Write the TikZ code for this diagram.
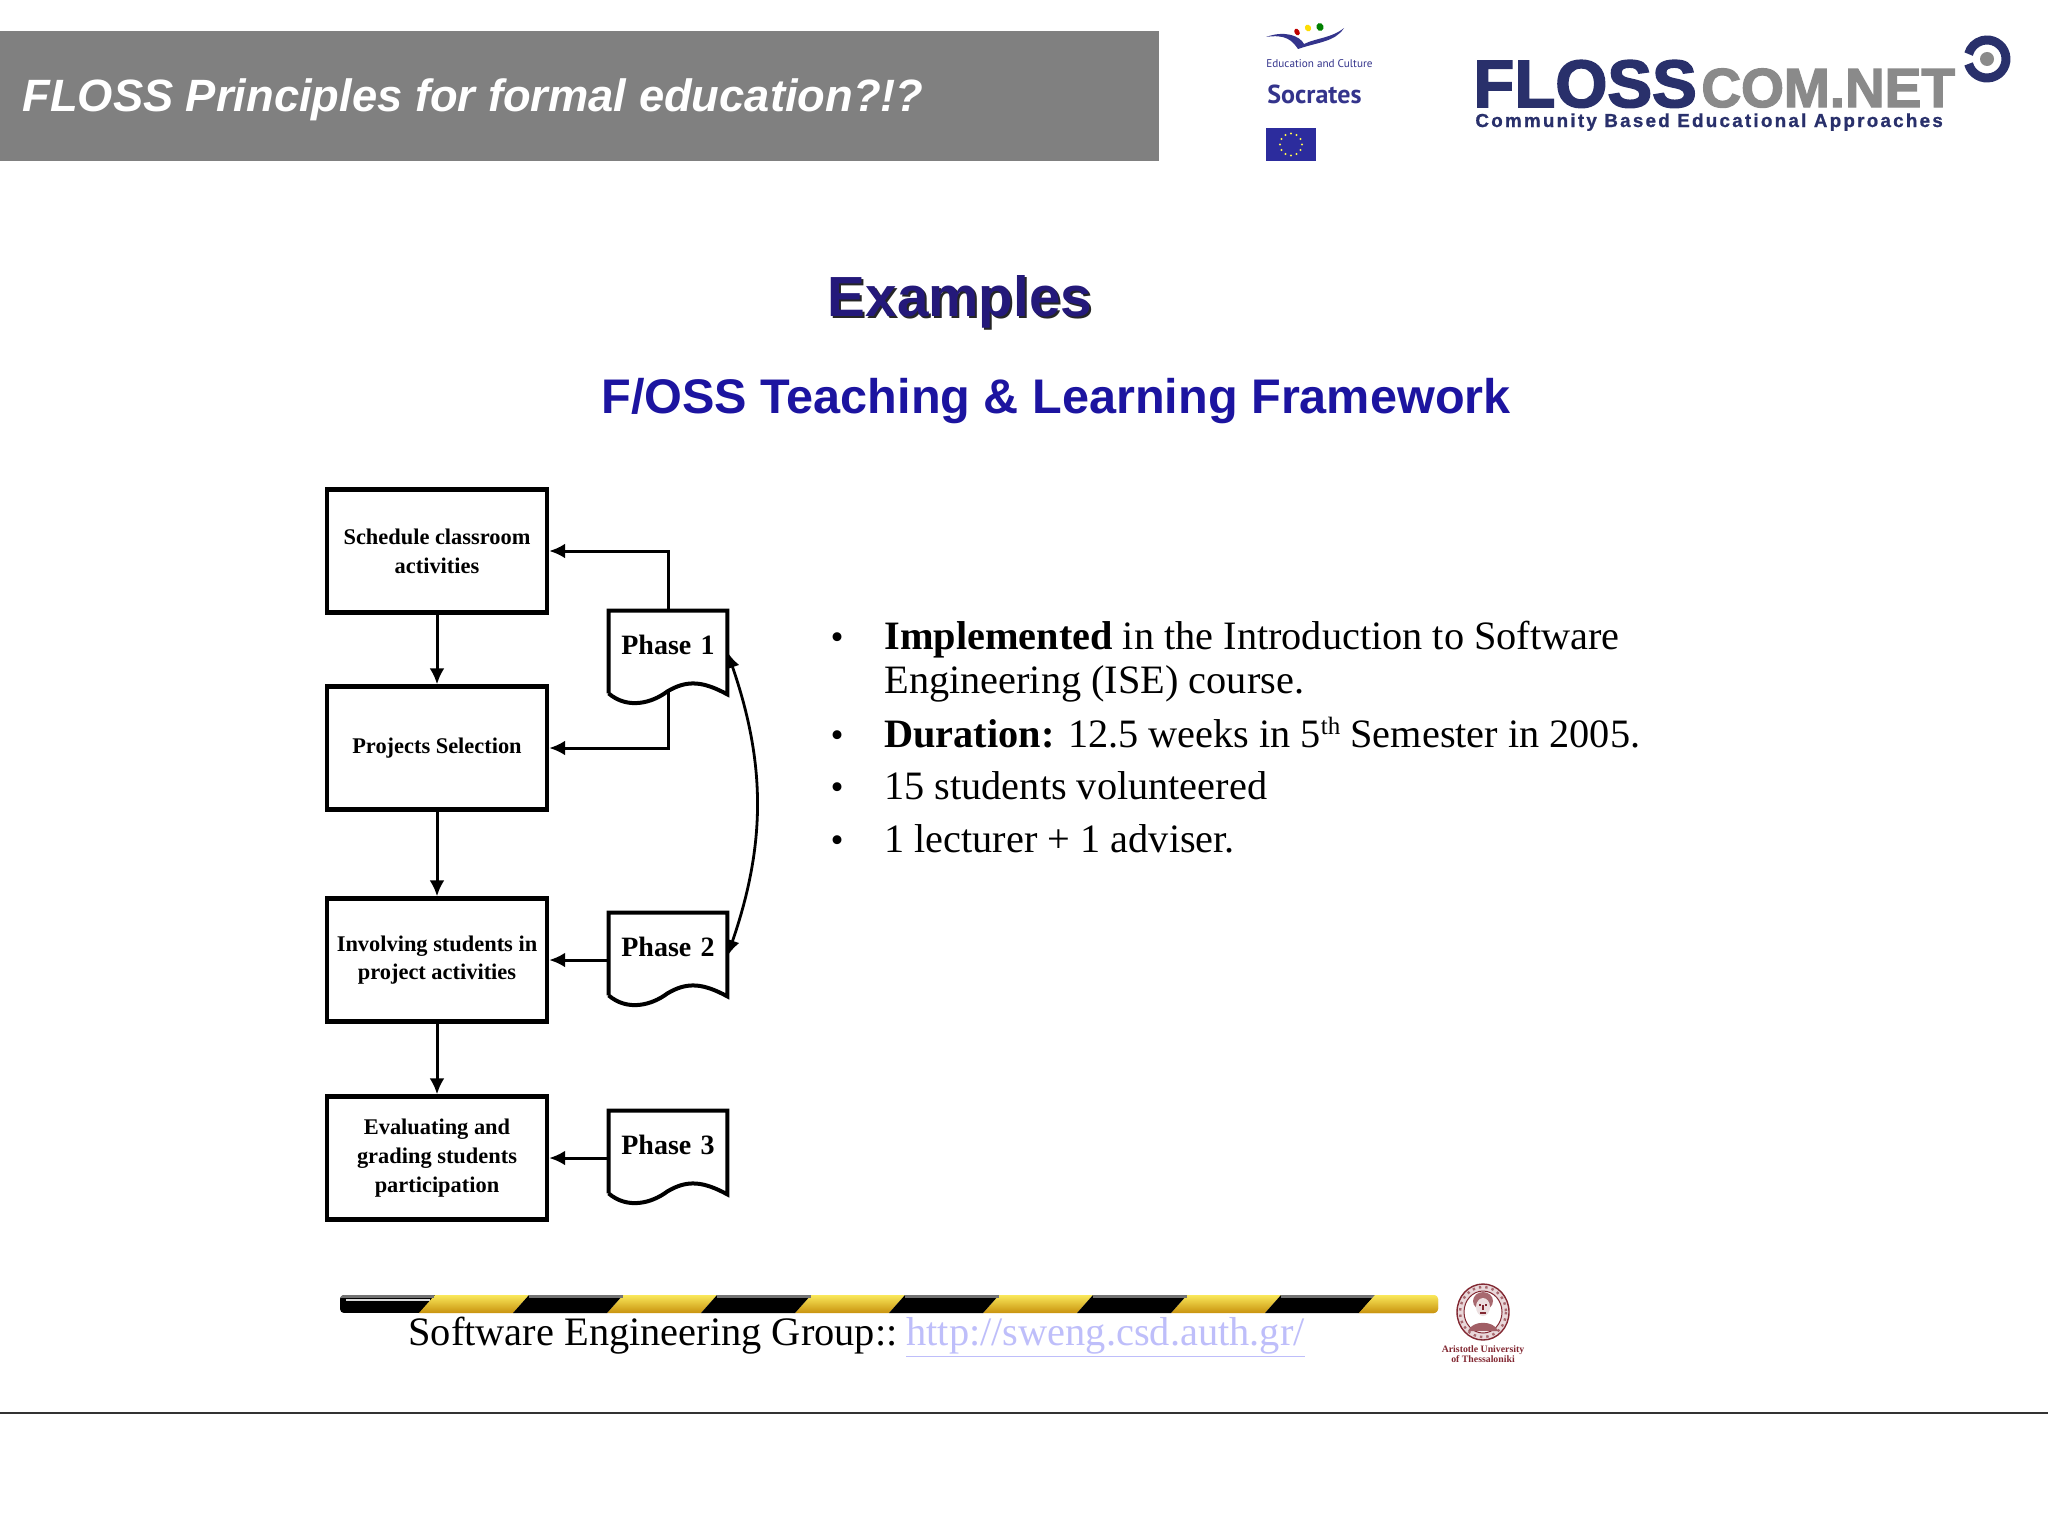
\documentclass[tikz,border=0pt]{standalone}
\usepackage{fontspec}
\setmainfont{Liberation Serif}
\setsansfont{Liberation Sans}
\newfontfamily\logofont{PT Sans}
\newfontfamily\heavyfont[UprightFont={* Bold}, FakeBold=2.5]{Liberation Sans}
\newfontfamily\spacedfont[UprightFont={* Bold}, FakeBold=1, LetterSpace=12]{Liberation Sans}
\usetikzlibrary{arrows.meta}
\definecolor{barcol}{RGB}{128,128,128}
\definecolor{navycol}{RGB}{41,48,107}
\definecolor{examplecol}{RGB}{36,25,122}
\definecolor{framecol}{RGB}{28,20,160}
\definecolor{socratescol}{RGB}{52,52,140}
\definecolor{graylogo}{RGB}{138,138,138}
\definecolor{linkcol}{RGB}{190,190,250}
\definecolor{authcol}{RGB}{130,40,50}
\definecolor{stripetop}{RGB}{250,232,90}
\definecolor{stripemid}{RGB}{244,200,16}
\definecolor{stripelow}{RGB}{200,146,14}
\tikzset{
  stepbox/.style={draw, line width=2.2pt, minimum width=110pt, minimum height=61.5pt,
    inner sep=0pt, align=center, font=\fontsize{11.2}{14.4}\selectfont\bfseries},
  phasedoc/.style={inner sep=0pt, text width=59pt, align=center,
    text height=21.5pt, text depth=25.5pt, font=\fontsize{14}{16}\selectfont\bfseries,
    append after command={
      \pgfextra{\draw[line width=2pt, line join=miter]
        ([yshift=6pt]\tikzlastnode.south west) -- (\tikzlastnode.north west) --
        (\tikzlastnode.north east) -- ([yshift=5.5pt]\tikzlastnode.south east)
        .. controls ([xshift=-12pt,yshift=12pt]\tikzlastnode.south east) and
        ([xshift=-20pt,yshift=13pt]\tikzlastnode.south east) ..
        ([xshift=-30pt,yshift=7pt]\tikzlastnode.south east)
        .. controls ([xshift=-38pt,yshift=1pt]\tikzlastnode.south east) and
        ([xshift=-50pt,yshift=-2pt]\tikzlastnode.south east) ..
        ([yshift=6pt]\tikzlastnode.south west);}}},
  arrowline/.style={line width=1.5pt, -{Latex[length=8pt,width=7.5pt]}},
  itemtext/.style={anchor=base west, inner sep=0pt, font=\fontsize{20.15}{24}\selectfont},
  dotitem/.style={anchor=base, inner sep=0pt, font=\fontsize{18.6}{22}\selectfont},
}

\begin{document}
\begin{tikzpicture}[x=0.5pt, y=-0.5pt]
  \useasboundingbox (0,0) rectangle (2048,1536);
  \fill[white] (0,0) rectangle (2048,1536);

  % header
  \fill[barcol] (0,31) rectangle (1159,161);
  \node[anchor=base west, inner sep=0pt, text=white,
    font=\fontsize{22.65}{28}\selectfont\sffamily\bfseries\itshape] (header) at (22,112)
    {FLOSS Principles for formal education?!?};

  % socrates logo
  \fill[socratescol] (1266,37) .. controls (1285,30) and (1300,36) .. (1304,44)
    .. controls (1316,38) and (1332,38) .. (1344,28)
    .. controls (1335,42) and (1318,42) .. (1298,49)
    .. controls (1292,40) and (1285,34) .. (1266,37) -- cycle;
  \fill[red!75!black, rotate around={30:(1297,32)}] (1297,32) ellipse (2.5 and 3.5);
  \fill[yellow!80!orange, rotate around={30:(1308,28)}] (1308,28) ellipse (3 and 3.5);
  \fill[green!50!black, rotate around={20:(1320,27)}] (1320,27) ellipse (3.5 and 4);
  \node[anchor=base west, inner sep=0pt, text=socratescol,
    font=\fontsize{5.6}{7}\selectfont\logofont] (culture) at (1266,68) {Education and Culture};
  \node[anchor=base west, inner sep=0pt, text=socratescol,
    font=\fontsize{13}{16}\selectfont\logofont\bfseries] (socrates) at (1267,104) {Socrates};
  \fill[socratescol!85!blue] (1266,128) rectangle (1316,161);
  \foreach \a in {0,30,...,330}
    \fill[yellow!70!white] ({1291+11*cos(\a)},{144.5+11*sin(\a)}) circle (1.2);

  % flosscom logo
  \node[anchor=base west, inner sep=0pt, text=navycol,
    font=\fontsize{33.5}{36}\selectfont\heavyfont] (floss) at (1473,107) {FLOSS};
  \node[anchor=base west, inner sep=0pt, text=graylogo,
    font=\fontsize{27.5}{30}\selectfont\heavyfont] (comnet) at (1701,107) {COM.NET};
  \node[anchor=base west, inner sep=0pt, text=navycol,
    font=\fontsize{9.4}{11}\selectfont\spacedfont] (community) at (1475,127)
    {Community Based Educational Approaches};
  \draw[navycol, line width=4.5pt] (1968.6,63.9) arc[start angle=165, end angle=-165, radius=19];
  \fill[graylogo] (1987,59) circle (7);

  % titles
  \node[inner sep=0pt, text=black!85, font=\fontsize{28.3}{32}\selectfont\sffamily\bfseries]
    (shadow) at (962,304) {Examples};
  \node[inner sep=0pt, text=examplecol, font=\fontsize{28.3}{32}\selectfont\sffamily\bfseries]
    (examples) at (960,302) {Examples};
  \node[anchor=base, inner sep=0pt, text=framecol,
    font=\fontsize{24.3}{28}\selectfont\sffamily\bfseries] (framework) at (1056,413)
    {F/OSS Teaching \& Learning Framework};

  % flow chart
  \node[stepbox] (schedule) at (437,551) {Schedule classroom\\activities};
  \node[stepbox] (selection) at (437,748) {Projects Selection};
  \node[stepbox] (involving) at (437,960) {Involving students in\\project activities};
  \node[stepbox] (evaluating) at (437,1158) {Evaluating and\\grading students\\participation};
  \node[phasedoc] (phaseone) at (668,658) {Phase 1};
  \node[phasedoc] (phasetwo) at (668,960) {Phase 2};
  \node[phasedoc] (phasethree) at (668,1158) {Phase 3};
  \draw[arrowline] (schedule) -- (selection);
  \draw[arrowline] (selection) -- (involving);
  \draw[arrowline] (involving) -- (evaluating);
  \draw[arrowline] (phaseone.north) |- (schedule.east);
  \draw[arrowline] ([yshift=7pt]phaseone.south) |- (selection.east);
  \draw[arrowline] (phasetwo.west) -- (involving.east);
  \draw[arrowline] (phasethree.west) -- (evaluating.east);
  \draw[line width=1.4pt, {Latex[length=8pt,width=7pt]}-{Latex[length=8pt,width=7pt]}]
    ([yshift=3pt]phaseone.east) to[bend left=19] ([yshift=2pt]phasetwo.east);

  % bullet items
  \node[dotitem] (dotone) at (837,649) {•};
  \node[itemtext] (itemone) at (884,649) {\textbf{Implemented} in the Introduction to Software};
  \node[itemtext] (itemonb) at (884,693) {Engineering (ISE) course.};
  \node[dotitem] (dottwo) at (837,747) {•};
  \node[itemtext] (itemtwo) at (884,747) {\textbf{Duration:} 12.5 weeks in 5\raisebox{0.32em}{\fontsize{12.5}{14}\selectfont th} Semester in 2005.};
  \node[dotitem] (dotthree) at (837,799) {•};
  \node[itemtext] (itemthree) at (884,799) {15 students volunteered};
  \node[dotitem] (dotfour) at (837,852) {•};
  \node[itemtext] (itemfour) at (884,852) {1 lecturer + 1 adviser.};

  % striped bar
  \begin{scope}
    \clip[rounded corners=2pt] (340,1295) rectangle (1438,1313);
    \fill[black] (340,1295) rectangle (440,1313);
    \foreach \x in {435,623,811,999,1187,1375}
      \shade[top color=stripetop, middle color=stripemid, bottom color=stripelow]
        (\x,1295) -- (\x+94,1295) -- (\x+78,1313) -- (\x-16,1313) -- cycle;
    \foreach \x in {529,717,905,1093,1281}
      \fill[black] (\x,1295) -- (\x+94,1295) -- (\x+78,1313) -- (\x-16,1313) -- cycle;
    \foreach \x in {340,529,717,905,1093,1281}
      \fill[black!55] (\x,1295) rectangle (\x+94,1298);
    \shade[top color=stripetop, middle color=stripemid, bottom color=stripelow]
      (1375,1295) -- (1438,1295) -- (1438,1313) -- (1359,1313) -- cycle;
    \draw[white!85!black, line width=0.6pt] (346,1300) -- (430,1300);
  \end{scope}
  \node[anchor=base west, inner sep=0pt, font=\fontsize{20.2}{24}\selectfont] (group) at (408,1345)
    {Software Engineering Group::};
  \node[anchor=base west, inner sep=0pt, text=linkcol, font=\fontsize{20.2}{24}\selectfont] (link) at (906,1345)
    {\underline{http://sweng.csd.auth.gr/}};

  % university seal
  \fill[authcol!18] (1483,1312) ellipse (26 and 28);
  \draw[authcol, line width=0.7pt] (1483,1312) ellipse (26 and 28);
  \draw[authcol!70, line width=1.2pt, dotted] (1483,1312) ellipse (23 and 25);
  \fill[white] (1483,1312) ellipse (19 and 21);
  \draw[authcol, line width=0.5pt] (1483,1312) ellipse (19 and 21);
  \fill[authcol!70] (1483,1301) ellipse (10 and 9);
  \fill[white!85!authcol] (1483,1307) ellipse (7 and 9);
  \draw[authcol, line width=0.6pt] (1479,1305) -- (1481,1305) (1485,1305) -- (1487,1305)
    (1483,1305) -- (1483,1310) (1480,1313) -- (1486,1313);
  \fill[authcol!75] (1468,1331) .. controls (1472,1320) and (1494,1320) .. (1498,1331) -- cycle;
  \node[inner sep=0pt, align=center, text=authcol,
    font=\fontsize{4.9}{5.1}\selectfont\bfseries] (auth) at (1483,1354)
    {Aristotle University\\of Thessaloniki};

  % rule
  \draw[black!80, line width=0.6pt] (0,1413) -- (2048,1413);
\end{tikzpicture}
\end{document}
